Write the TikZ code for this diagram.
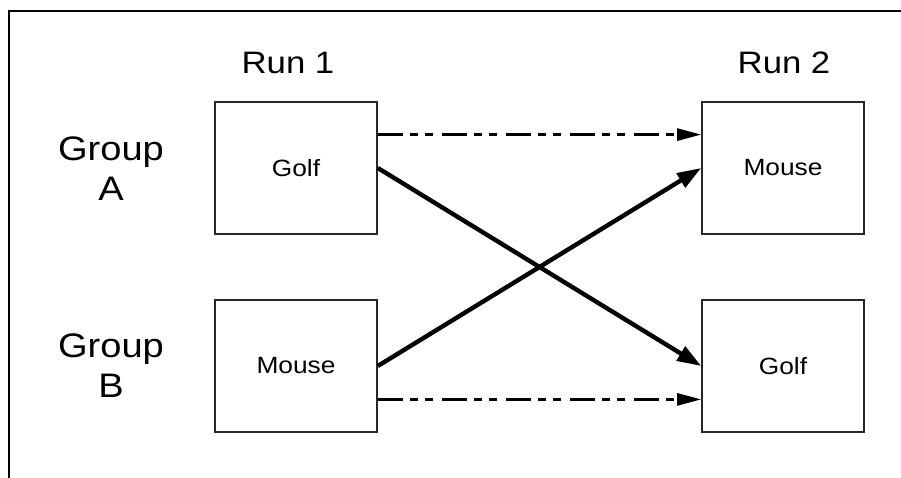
\documentclass[tikz,border=0pt]{standalone}
\usepackage{fontspec}
\setmainfont{Liberation Sans}[FakeStretch=1.12]
\usetikzlibrary{arrows.meta,calc}
\begin{document}
\begin{tikzpicture}[x=1pt,y=-1pt,
  box/.style={draw=black!85,line width=1.6pt,minimum width=162pt,minimum height=132pt,inner sep=0pt,
    font=\fontsize{23.5}{28}\selectfont},
  run/.style={font=\fontsize{31}{38}\selectfont,inner sep=0pt},
  grp/.style={font=\fontsize{34}{40}\selectfont,align=center,inner sep=0pt},
  cross/.style={line width=4.4pt,-{Triangle[length=24pt,width=16pt]}},
  dashline/.style={line width=2.6pt,dash pattern=on 25pt off 7pt on 8pt off 7pt on 8pt off 9pt,
    -{Triangle[length=24pt,width=12pt]}}]
\useasboundingbox (0,0) rectangle (901,478);
\coordinate (fl) at (9,478);
\coordinate (fc) at (9,11);
\coordinate (fr) at (901,11);
\draw[line width=2.5pt] (fl) -- (fc) -- (fr);
\node[box] (a1) at (296,168) {Golf};
\node[box] (b1) at (296,366) {Mouse};
\node[box] (a2) at (783,168) {Mouse};
\node[box] (b2) at (783,366) {Golf};
\node[run] (r1) at (288,63) {Run 1};
\node[run] (r2) at (784,63) {Run 2};
\node[grp] (ga) at (111,169) {Group\\A};
\node[grp] (gb) at (111,366) {Group\\B};
\draw[dashline] ($(a1.north east)!0.25!(a1.south east)$) -- ($(a2.north west)!0.25!(a2.south west)$);
\draw[dashline] ($(b1.north east)!0.75!(b1.south east)$) -- ($(b2.north west)!0.75!(b2.south west)$);
\draw[cross] (a1.east) -- (b2.west);
\draw[cross] (b1.east) -- (a2.west);
\end{tikzpicture}
\end{document}
